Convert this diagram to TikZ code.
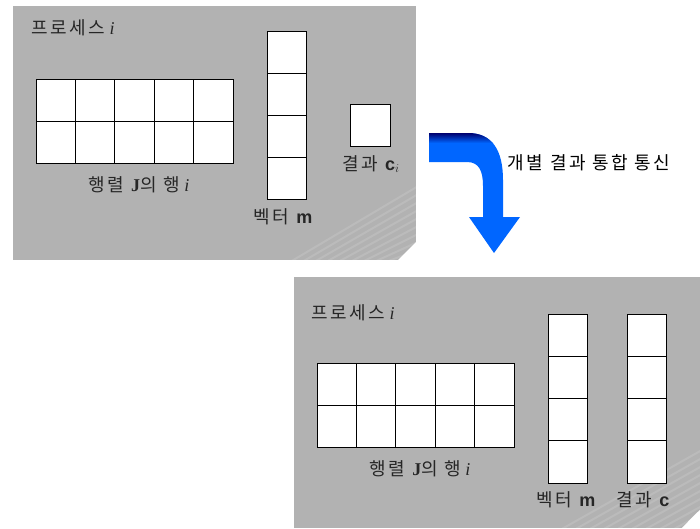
\documentclass[tikz,border=0pt]{standalone}
\usepackage{fontspec}
\setmainfont{Liberation Serif}
\newfontfamily\kr[LetterSpace=14]{Noto Sans CJK KR}
\newfontfamily\lsans{Liberation Sans}
\definecolor{panelgray}{RGB}{178,178,178}
\definecolor{arrowblue}{RGB}{0,102,255}
\definecolor{arrownavy}{RGB}{0,0,110}
\tikzset{
  panel/.style={fill=panelgray, draw=none},
  cell/.style={draw=black, fill=white, line width=0.8pt},
  lbl/.style={inner sep=0pt, font=\fontsize{18}{21}\selectfont, text=black!85},
}
\newcommand{\vecm}{\textbf{\lsans m}}
\newcommand{\vecc}{\textbf{\lsans c}}
\begin{document}
\begin{tikzpicture}[x=1pt,y=-1pt]
\useasboundingbox (0,0) rectangle (700,528);
\fill[white] (0,0) rectangle (700,528);
% panels
\path[panel] (13,6) rectangle (416,260);
\path[panel] (294,277) rectangle (700,528);
% subtle texture in corners
\begin{scope}
\clip (13,6) rectangle (416,260);
\foreach \k in {0,...,9} {
  \draw[white, line width=2pt, opacity=0.12] (290+\k*12,262) -- (420,185+\k*8);
}
\fill[white] (416,242) -- (416,262) -- (396,262) .. controls (403,255) and (409,249) .. cycle;
\end{scope}
\begin{scope}
\clip (294,277) rectangle (700,528);
\foreach \k in {0,...,9} {
  \draw[white, line width=2pt, opacity=0.12] (560+\k*14,530) -- (702,450+\k*8);
}
\fill[white] (700,510) -- (700,530) -- (680,530) .. controls (687,523) and (693,516) .. cycle;
\end{scope}
% ---- top panel ----
\node[lbl, anchor=west] (ptop) at (31,28) {{\kr 프로세스} \textit{i}};
\foreach \c in {0,...,4} \foreach \r in {0,1} {
  \draw[cell] (36+\c*39.4,79+\r*42) rectangle ++(39.4,42);
}
\node[lbl] (ljtop) at (139,185) {{\kr 행렬} \textbf{J}{\kr 의 행} \textit{i}};
\foreach \r in {0,...,3} {
  \draw[cell] (267,31+\r*42) rectangle ++(39,42);
}
\node[lbl] (lmtop) at (283,217) {{\kr 벡터} \vecm};
\node[cell, minimum width=40pt, minimum height=42pt, inner sep=0pt] (ci) at (370,125) {};
\node[lbl] (lci) at (371,164) {{\kr 결과} \vecc$_{i}$};
% ---- arrow ----
\path[fill=arrowblue] (429,133) -- (468,133) .. controls (492,133) and (503,150) .. (503,180) -- (503,217) -- (520,217) -- (494,253) -- (469,217) -- (483,217) -- (483,186) .. controls (483,171) and (479,162) .. (467,162) -- (429,162) -- cycle;
\begin{scope}
\clip (429,133) -- (468,133) .. controls (492,133) and (503,150) .. (503,180) -- (429,180) -- cycle;
\shade[top color=arrownavy, bottom color=arrowblue] (429,133) rectangle (505,143);
\end{scope}
\node[lbl, text=black] (comm) at (589,163) {\kr 개별 결과 통합 통신};
% ---- bottom panel ----
\node[lbl, anchor=west] (pbot) at (311,313) {{\kr 프로세스} \textit{i}};
\foreach \c in {0,...,4} \foreach \r in {0,1} {
  \draw[cell] (317+\c*39.4,363+\r*42) rectangle ++(39.4,42);
}
\node[lbl] (ljbot) at (420,469) {{\kr 행렬} \textbf{J}{\kr 의 행} \textit{i}};
\foreach \r in {0,...,3} {
  \draw[cell] (548,314+\r*42.25) rectangle ++(39,42.25);
  \draw[cell] (627,314+\r*42.25) rectangle ++(39,42.25);
}
\node[lbl] (lmbot) at (566,500) {{\kr 벡터} \vecm};
\node[lbl] (lcbot) at (643,500) {{\kr 결과} \vecc};
\end{tikzpicture}
\end{document}
